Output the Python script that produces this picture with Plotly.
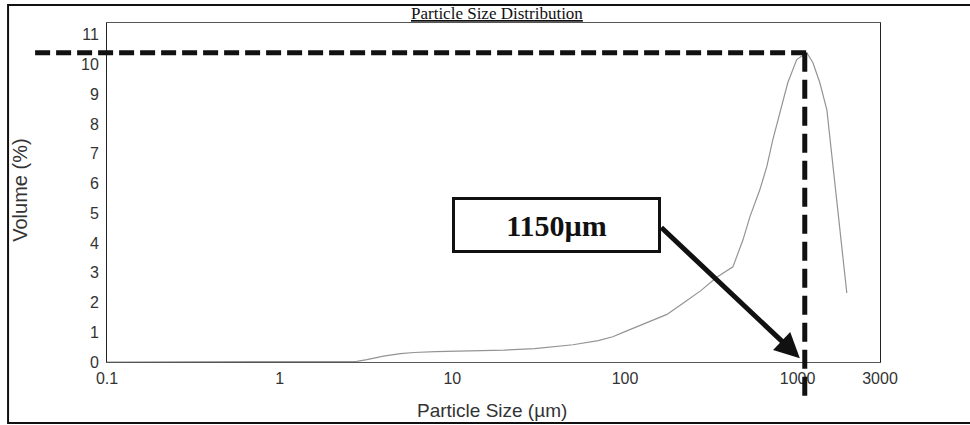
import math
import plotly.graph_objects as go

# ---- data ----
particle_size_um = [0.1, 0.2, 0.5, 1, 2, 2.8, 3.2, 3.6, 4, 5, 6, 8, 10, 15, 20, 30, 40, 50,
                    70, 85, 100, 130, 175, 220, 275, 340, 422, 482, 529, 604, 663, 718,
                    789, 877, 988, 1130, 1225, 1345, 1477, 1536, 1600, 1687, 1755, 1827, 1927]
volume_pct = [0, 0, 0, 0, 0, 0.02, 0.08, 0.14, 0.2, 0.28, 0.32, 0.35, 0.36, 0.38, 0.4, 0.45, 0.52, 0.58,
              0.72, 0.85, 1.02, 1.3, 1.6, 2.0, 2.4, 2.85, 3.2, 4.1, 4.88, 5.79, 6.57, 7.47,
              8.38, 9.39, 10.17, 10.4, 10.07, 9.39, 8.48, 7.58, 6.57, 5.45, 4.44, 3.54, 2.32]
x_ticks = [0.1, 1, 10, 100, 1000, 3000]
x_ticktext = ["0.1", "1", "10", "100", "1000", "3000"]
y_ticks = list(range(0, 12))
peak_size = 1100
peak_volume = 10.4
label_text = "1150µm"

X_MIN, X_MAX = 0.1, 3000
Y_MIN, Y_MAX = 0, 11.4

def px_x(v):
    return (math.log10(v) - math.log10(X_MIN)) / (math.log10(X_MAX) - math.log10(X_MIN))

def px_y(v):
    return (v - Y_MIN) / (Y_MAX - Y_MIN)

fig = go.Figure()
fig.add_trace(go.Scatter(
    x=particle_size_um, y=volume_pct, mode="lines",
    line=dict(color="#949494", width=1.2), hoverinfo="skip", showlegend=False,
))

axis_font = dict(family="Liberation Sans, Arial, sans-serif", size=16, color="#333")

fig.update_layout(
    width=970, height=425,
    margin=dict(l=107, r=90, t=23, b=63),
    paper_bgcolor="white", plot_bgcolor="white",
    showlegend=False,
    xaxis=dict(type="log", range=[math.log10(X_MIN), math.log10(X_MAX)],
               tickvals=x_ticks, ticktext=x_ticktext, showgrid=False, zeroline=False,
               showline=True, linecolor="#555", linewidth=1, mirror=True,
               ticks="", tickfont=axis_font, ticklabelstandoff=2),
    yaxis=dict(range=[Y_MIN, Y_MAX], tickvals=y_ticks, showgrid=False, zeroline=False,
               showline=True, linecolor="#222", linewidth=1, mirror=True,
               ticks="", tickfont=axis_font, ticklabelstandoff=4),
)

shapes = []
# outer frame (no right edge)
shapes.append(dict(type="path", xref="paper", yref="paper",
                   path="M 1.12,1.053 L -0.128,1.053 L -0.128,-0.18 L 1.12,-0.18",
                   line=dict(color="#111", width=2)))
# horizontal dashed line at peak
shapes.append(dict(type="line", xref="paper", yref="paper",
                   x0=-0.093, x1=px_x(peak_size) + 0.004, y0=px_y(peak_volume), y1=px_y(peak_volume),
                   line=dict(color="#111", width=5, dash="15px,6px")))
# vertical dashed line at peak size
shapes.append(dict(type="line", xref="paper", yref="paper",
                   x0=px_x(peak_size), x1=px_x(peak_size), y0=px_y(peak_volume), y1=-0.106,
                   line=dict(color="#111", width=5, dash="19px,8px")))
fig.update_layout(shapes=shapes)

annotations = [
    dict(text="<u>Particle Size Distribution</u>", xref="paper", yref="paper", x=0.505, y=1.027,
         showarrow=False, font=dict(family="Liberation Serif, Times New Roman, serif", size=17, color="#111"),
         xanchor="center", yanchor="middle"),
    dict(text="Particle Size (µm)", xref="paper", yref="paper", x=0.498, y=-0.142,
         showarrow=False, font=dict(family="Liberation Sans, Arial, sans-serif", size=19, color="#333"),
         xanchor="center", yanchor="middle"),
    dict(text="Volume (%)", xref="paper", yref="paper", x=-0.113, y=0.507, textangle=-90,
         showarrow=False, font=dict(family="Liberation Sans, Arial, sans-serif", size=20, color="#333"),
         xanchor="center", yanchor="middle"),
    dict(text="<b>" + label_text + "</b>", xref="paper", yref="paper", x=0.581, y=0.404,
         showarrow=False, width=201, height=48, bordercolor="#111", borderwidth=3, bgcolor="white",
         font=dict(family="Liberation Serif, Times New Roman, serif", size=30, color="#111"),
         xanchor="center", yanchor="middle"),
    dict(text="", x=math.log10(1030), y=0.13, xref="x", yref="y",
         showarrow=True, ax=-140, ay=-132, arrowhead=2, arrowsize=1.0, arrowwidth=5, arrowcolor="#111"),
]
fig.update_layout(annotations=annotations)

fig.write_html("out.html")
